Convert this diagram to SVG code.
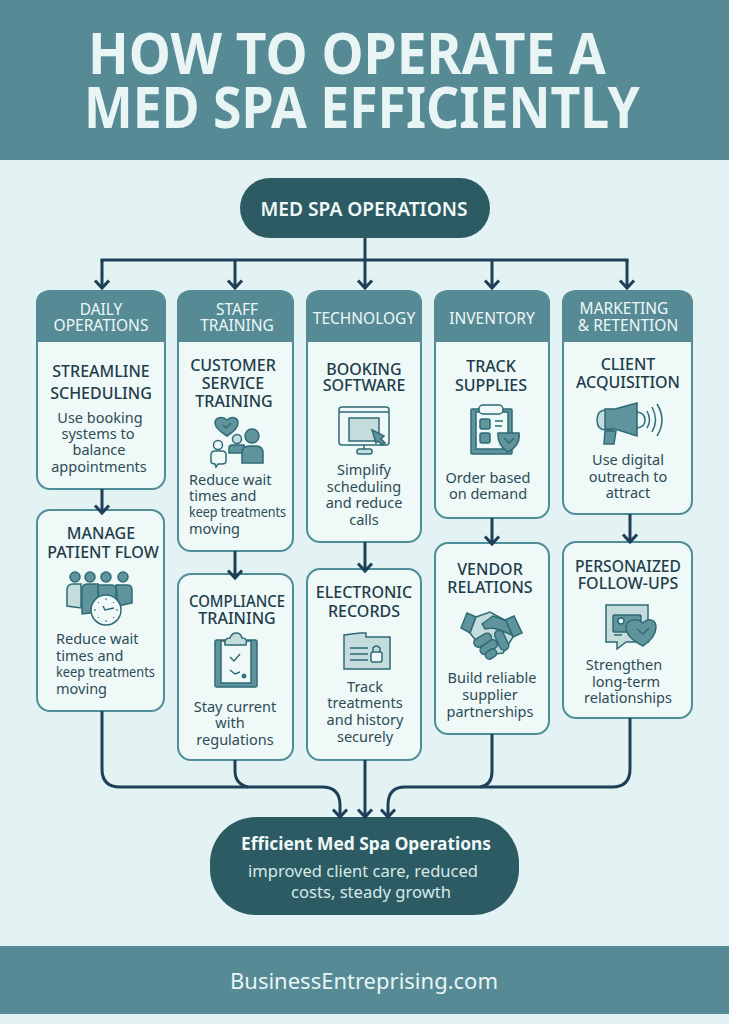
<svg xmlns="http://www.w3.org/2000/svg" width="729" height="1024" viewBox="0 0 729 1024">
<style>
text{font-family:"Noto Sans","Open Sans","Liberation Sans",sans-serif;text-anchor:middle}
.band{fill:#568a95}
.title{font-size:57px;font-weight:700;fill:#e9f5f5}
.box{fill:#eef9f8;stroke:#4f8d98;stroke-width:2}
.hd{fill:#568a95}
.ht{font-size:15.5px;fill:#eef8f7}
.st{font-size:16px;font-weight:500;fill:#1f3d4a}
.bt{font-size:14.5px;fill:#2f4b55}
.l{text-anchor:start}
.pill{fill:#2c5b64}
.con{fill:none;stroke:#1d4058;stroke-width:3;marker-end:url(#arr)}
.con2{fill:none;stroke:#1d4058;stroke-width:3}
.i1{fill:#5f949c;stroke:#2f6a76;stroke-width:1.5}
.i2{fill:#c4dcdc;stroke:#2f6a76;stroke-width:1.5}
.i3{fill:#eef9f8;stroke:#2f6a76;stroke-width:1.5}
.i4{fill:none;stroke:#2f6a76;stroke-width:1.5}
</style>
<defs>
<marker id="arr" markerUnits="userSpaceOnUse" markerWidth="20" markerHeight="20" refX="10" refY="10" orient="auto" overflow="visible">
<path d="M2.5 3 L10 10 L2.5 17" fill="none" stroke="#1d4058" stroke-width="3"/>
</marker>
</defs>
<rect width="729" height="1024" fill="#e3f2f3"/>
<g id="title-band">
<rect class="band" width="729" height="160"/>
<text class="title" x="347" y="74" textLength="518" lengthAdjust="spacingAndGlyphs">HOW TO OPERATE A</text>
<text class="title" x="362" y="128" textLength="556" lengthAdjust="spacingAndGlyphs">MED SPA EFFICIENTLY</text>
</g>
<g id="top-node">
<rect class="pill" x="240" y="178" width="250" height="60" rx="30"/>
<text x="364" y="216" font-size="19" font-weight="600" fill="#f0f9f8" textLength="207" lengthAdjust="spacingAndGlyphs">MED SPA OPERATIONS</text>
</g>
<g id="daily-operations">
<rect class="box" x="37" y="291" width="128" height="198" rx="13"/>
<path class="hd" d="M36 342V304Q36 291 49 291H153Q166 291 166 304V342Z"/>
<text class="ht" x="101" y="315">DAILY</text>
<text class="ht" x="101" y="331">OPERATIONS</text>
</g>
<g id="streamline-scheduling">
<text class="st" x="101" y="377">STREAMLINE</text>
<text class="st" x="101" y="399">SCHEDULING</text>
<text class="bt" x="100" y="423">Use booking</text>
<text class="bt" x="98" y="439">systems to</text>
<text class="bt" x="99" y="455">balance</text>
<text class="bt" x="99" y="472">appointments</text>
</g>
<g id="manage-patient-flow">
<rect class="box" x="37" y="510" width="127" height="201" rx="13"/>
<text class="st" x="101" y="539">MANAGE</text>
<text class="st" x="103" y="558">PATIENT FLOW</text>
<g>
<circle class="i1" cx="75" cy="577" r="5"/><circle class="i1" cx="90" cy="577" r="5"/><circle class="i1" cx="106" cy="577" r="5"/><circle class="i1" cx="123" cy="577" r="5"/>
<path class="i2" d="M67 606V590Q67 584 73 584H81V608Z"/>
<path class="i1" d="M116 585H127Q132 585 132 590V603L118 606Z"/>
<path class="i1" d="M98 585H111Q116 585 116 590V600H98Z"/>
<path class="i1" d="M82 614V589Q82 584 88 584H98V612Z"/>
<circle class="i3" cx="106" cy="610" r="15"/>
<path class="i4" d="M103 606L105 610L114 608"/>
<path d="M106 598v2M106 620v2M94 610h2M116 610h2M98 602l1 1M113 617l1 1M98 618l1-1M113 603l1-1" stroke="#2f6a76" fill="none"/>
</g>
<text class="bt l" x="56" y="644">Reduce wait</text>
<text class="bt l" x="56" y="661">times and</text>
<text class="bt l" x="56" y="677" textLength="99" lengthAdjust="spacingAndGlyphs">keep treatments</text>
<text class="bt l" x="56" y="694">moving</text>
</g>
<g id="staff-training">
<rect class="box" x="178" y="291" width="115" height="260" rx="13"/>
<path class="hd" d="M177 342V304Q177 291 190 291H281Q294 291 294 304V342Z"/>
<text class="ht" x="237" y="315">STAFF</text>
<text class="ht" x="237" y="331">TRAINING</text>
</g>
<g id="customer-service-training">
<text class="st" x="233" y="371">CUSTOMER</text>
<text class="st" x="233" y="389">SERVICE</text>
<text class="st" x="234" y="407">TRAINING</text>
<g>
<path class="i1" d="M227 436C219 431 215 427 215 423C215 417 223 416 227 420C231 416 238 417 238 423C238 427 235 431 227 436Z"/>
<path class="i4" d="M223 425L226 428L231 423"/>
<path class="i1" d="M229 453V448Q229 445 232 445H244V453Z"/>
<circle class="i2" cx="237" cy="439" r="4.5"/>
<circle class="i3" cx="218" cy="445" r="4.5"/>
<path class="i3" d="M211 461V455Q211 451 215 451H222Q226 451 226 455V461Q226 464 222 464H218L216 467L215 464Q211 464 211 461Z"/>
<circle class="i1" cx="252" cy="436" r="7"/>
<path class="i1" d="M242 463V453Q242 446 249 446H256Q263 446 263 453V463Z"/>
</g>
<text class="bt l" x="189" y="485">Reduce wait</text>
<text class="bt l" x="189" y="501">times and</text>
<text class="bt l" x="189" y="517" textLength="97" lengthAdjust="spacingAndGlyphs">keep treatments</text>
<text class="bt l" x="189" y="534">moving</text>
</g>
<g id="compliance-training">
<rect class="box" x="178" y="574" width="115" height="186" rx="13"/>
<text class="st" x="237" y="607" textLength="96" lengthAdjust="spacingAndGlyphs">COMPLIANCE</text>
<text class="st" x="237" y="624">TRAINING</text>
<g>
<rect class="i1" x="215" y="640" width="42" height="47" rx="2"/>
<rect class="i3" x="221" y="641" width="30" height="42"/>
<path class="i2" d="M225 645Q224 638 230 638Q232 633 236 633Q241 633 242 638Q248 638 246 645Z"/>
<path class="i4" d="M230 657L234 661L240 654M230 670L235 674L240 672"/>
<circle cx="244" cy="676" r="2.5" fill="#3d7480"/>
</g>
<text class="bt" x="235" y="712">Stay current</text>
<text class="bt" x="230" y="728">with</text>
<text class="bt" x="235" y="745">regulations</text>
</g>
<g id="technology">
<rect class="box" x="307" y="291" width="114" height="251" rx="13"/>
<path class="hd" d="M306 342V304Q306 291 319 291H409Q422 291 422 304V342Z"/>
<text class="ht" x="364" y="324">TECHNOLOGY</text>
</g>
<g id="booking-software">
<text class="st" x="364" y="375">BOOKING</text>
<text class="st" x="364" y="391">SOFTWARE</text>
<g>
<path class="i4" d="M364 445V450"/>
<rect class="i3" x="339" y="407" width="50" height="38" rx="3"/>
<path class="i4" d="M339 412H389"/>
<rect class="i2" x="349" y="418" width="30" height="23"/>
<path class="i1" d="M372 430L384 436L381 439L385 443L382 445L378 441L376 443Z"/>
<rect class="i2" x="357" y="449" width="15" height="5" rx="2"/>
</g>
<text class="bt" x="364" y="475">Simplify</text>
<text class="bt" x="364" y="492">scheduling</text>
<text class="bt" x="364" y="508">and reduce</text>
<text class="bt" x="364" y="525">calls</text>
</g>
<g id="electronic-records">
<rect class="box" x="307" y="569" width="114" height="191" rx="13"/>
<text class="st" x="364" y="598">ELECTRONIC</text>
<text class="st" x="364" y="617">RECORDS</text>
<g>
<path class="i2" d="M344 669V635L360 633H366V637H390V669Z"/>
<path class="i4" d="M350 648H368M350 654H368M350 660H368"/>
<rect class="i3" x="371" y="652" width="11" height="10" rx="2"/>
<path class="i4" d="M373 652V648Q376 644 380 648V652"/>
</g>
<text class="bt" x="365" y="692">Track</text>
<text class="bt" x="365" y="708">treatments</text>
<text class="bt" x="365" y="725">and history</text>
<text class="bt" x="365" y="742">securely</text>
</g>
<g id="inventory">
<rect class="box" x="435" y="291" width="114" height="227" rx="13"/>
<path class="hd" d="M434 342V304Q434 291 447 291H537Q550 291 550 304V342Z"/>
<text class="ht" x="492" y="324">INVENTORY</text>
</g>
<g id="track-supplies">
<text class="st" x="491" y="372">TRACK</text>
<text class="st" x="491" y="391">SUPPLIES</text>
<g>
<rect class="i1" x="471" y="409" width="41" height="45" rx="1"/>
<rect class="i3" x="476" y="412" width="32" height="37"/>
<rect class="i3" x="479" y="405" width="24" height="9" rx="4"/>
<rect class="i1" x="480" y="419" width="10" height="10" rx="2"/>
<rect class="i1" x="480" y="433" width="10" height="10" rx="2"/>
<path class="i4" d="M495 421H503M495 426H502"/>
<path class="i1" d="M498 433H519Q521 445 508 452Q497 445 498 433Z"/>
<path class="i4" d="M504 438L509 443L514 438"/>
</g>
<text class="bt" x="488" y="483">Order based</text>
<text class="bt" x="488" y="499">on demand</text>
</g>
<g id="vendor-relations">
<rect class="box" x="435" y="543" width="114" height="191" rx="13"/>
<text class="st" x="490" y="575">VENDOR</text>
<text class="st" x="490" y="593">RELATIONS</text>
<g>
<path class="i1" d="M461 628L467 613L476 617L470 633Z"/>
<path class="i1" d="M505 620L514 616L522 633L513 637Z"/>
<path class="i2" d="M476 617L490 612L499 617L505 620L513 637L503 653L487 655L470 633Z"/>
<path class="i1" d="M482 624L493 616L499 618L506 621L512 635L500 630L492 628L485 629Z"/>
<rect class="i1" x="473" y="636" width="19" height="9" rx="4.5" transform="rotate(-30 482 640)"/>
<rect class="i1" x="479" y="643" width="19" height="9" rx="4.5" transform="rotate(-35 488 647)"/>
<rect class="i1" x="485" y="650" width="12" height="8" rx="4" transform="rotate(-35 491 654)"/>
<rect class="i1" x="497" y="630" width="9" height="21" rx="4.5" transform="rotate(-25 501 640)"/>
</g>
<text class="bt" x="492" y="683">Build reliable</text>
<text class="bt" x="490" y="700">supplier</text>
<text class="bt" x="490" y="717">partnerships</text>
</g>
<g id="marketing-retention">
<rect class="box" x="563" y="291" width="129" height="223" rx="13"/>
<path class="hd" d="M562 342V304Q562 291 575 291H680Q693 291 693 304V342Z"/>
<text class="ht" x="624" y="314">MARKETING</text>
<text class="ht" x="628" y="331">&amp; RETENTION</text>
</g>
<g id="client-acquisition">
<text class="st" x="628" y="370">CLIENT</text>
<text class="st" x="628" y="388">ACQUISITION</text>
<g>
<path class="i2" d="M606 410H613V430H606Q597 430 597 420Q597 410 606 410Z"/>
<path class="i1" d="M605 431H616L614 444H604Z"/>
<path class="i1" d="M605 409H615L637 403H637V436L615 429H605Z"/>
<path class="i3" d="M637 412Q645 413 645 420Q645 427 637 428Z"/>
<path class="i4" d="M647 411Q652 420 647 428M652 407Q659 420 652 432M657 404Q667 420 657 436"/>
</g>
<text class="bt" x="628" y="465">Use digital</text>
<text class="bt" x="628" y="482">outreach to</text>
<text class="bt" x="628" y="498">attract</text>
</g>
<g id="personalized-follow-ups">
<rect class="box" x="563" y="542" width="129" height="176" rx="13"/>
<text class="st" x="628" y="572" textLength="106" lengthAdjust="spacingAndGlyphs">PERSONAIZED</text>
<text class="st" x="628" y="589">FOLLOW-UPS</text>
<g>
<path class="i2" d="M606 605H648V642H626L617 649V642H606Z"/>
<rect class="i1" x="613" y="615" width="28" height="17" rx="1"/>
<circle class="i3" cx="621" cy="621" r="3"/>
<path class="i4" d="M614 635H622"/>
<path class="i1" d="M643 646C631 640 626 634 626 627C626 620 637 617 643 623C649 617 656 620 656 627C656 634 652 640 643 646Z"/>
<path class="i4" d="M637 629L643 634L649 628"/>
</g>
<text class="bt" x="624" y="670">Strengthen</text>
<text class="bt" x="626" y="687">long-term</text>
<text class="bt" x="628" y="703">relationships</text>
</g>
<g id="outcome-node">
<rect class="pill" x="210" y="817" width="309" height="98" rx="46"/>
<text x="366" y="850" font-size="17" font-weight="700" fill="#f0f9f8" textLength="250" lengthAdjust="spacingAndGlyphs">Efficient Med Spa Operations</text>
<text x="363" y="877" font-size="17" fill="#d6e9e9" textLength="230" lengthAdjust="spacingAndGlyphs">improved client care, reduced</text>
<text x="371" y="898" font-size="17" fill="#d6e9e9" textLength="160" lengthAdjust="spacingAndGlyphs">costs, steady growth</text>
</g>
<g id="footer-band">
<rect class="band" y="946" width="729" height="68"/>
<text x="364" y="989" font-size="22" fill="#e8f5f4" textLength="268" lengthAdjust="spacingAndGlyphs">BusinessEntreprising.com</text>
</g>
<g id="connectors">
<path class="con2" d="M102 262V260H627V262M365 238V260"/>
<path class="con" d="M102 260V288"/>
<path class="con" d="M235 260V288"/>
<path class="con" d="M365 260V288"/>
<path class="con" d="M492 260V288"/>
<path class="con" d="M627 260V288"/>
<path class="con" d="M102 489V513"/>
<path class="con" d="M235 551V578"/>
<path class="con" d="M365 542V571"/>
<path class="con" d="M492 518V544"/>
<path class="con" d="M630 514V542"/>
<path class="con" d="M102 711V769Q102 787 120 787H322Q340 787 340 805V817"/>
<path class="con2" d="M235 760V771Q235 784 248 787"/>
<path class="con" d="M365 760V817"/>
<path class="con2" d="M492 734V772Q492 785 480 787"/>
<path class="con" d="M630 718V769Q630 787 612 787H405Q388 787 388 805V817"/>
</g>
</svg>
